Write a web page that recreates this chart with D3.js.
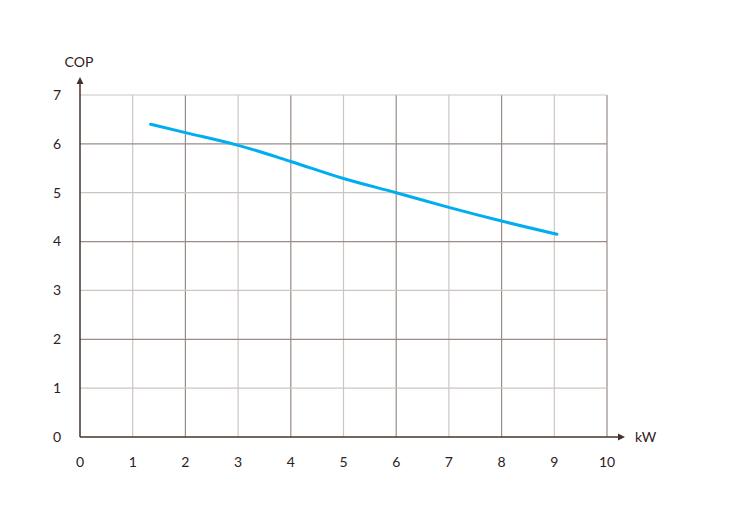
<!DOCTYPE html>
<html><head><meta charset="utf-8">
<script src="https://cdn.jsdelivr.net/npm/d3@7"></script>
<style>body{margin:0;background:#fff}svg{display:block}text{font-family:Lato,"Open Sans",sans-serif;font-weight:400;fill:#2e211b}</style>
</head><body><svg id="c" width="750" height="517"></svg>
<script>
const xTicks = [0,1,2,3,4,5,6,7,8,9,10];
const yTicks = [0,1,2,3,4,5,6,7];
const powerKW = [1.34, 2, 3, 4, 5, 6, 7, 8, 9.05];
const copValues = [6.40, 6.23, 5.97, 5.64, 5.29, 5.00, 4.70, 4.42, 4.15];
const xLabel = "kW", yLabel = "COP";

const svg = d3.select("#c");
const x = d3.scaleLinear().domain([0,10]).range([80,607]);
const y = d3.scaleLinear().domain([0,7]).range([437,95]);

const light = "#cdc5c2", dark = "#998c86", axisC = "#44322a";
// grid
svg.append("g").selectAll("line").data(xTicks.filter(d=>d>0)).join("line")
  .attr("x1",d=>x(d)).attr("x2",d=>x(d)).attr("y1",y(0)).attr("y2",y(7))
  .attr("stroke",d=>d%2===0?dark:light).attr("stroke-width",1.2);
svg.append("g").selectAll("line").data(yTicks.filter(d=>d>0)).join("line")
  .attr("x1",x(0)).attr("x2",x(10)).attr("y1",d=>y(d)).attr("y2",d=>y(d))
  .attr("stroke",d=>d%2===0?dark:light).attr("stroke-width",1.2);

// axes
svg.append("line").attr("x1",x(0)).attr("x2",619).attr("y1",y(0)).attr("y2",y(0)).attr("stroke",axisC).attr("stroke-width",1.5);
svg.append("line").attr("x1",x(0)).attr("x2",x(0)).attr("y1",y(0)).attr("y2",84).attr("stroke",axisC).attr("stroke-width",1.5);
svg.append("path").attr("d",`M${625},${y(0)} L${618},${y(0)-3.5} L${618},${y(0)+3.5}Z`).attr("fill",axisC);
svg.append("path").attr("d",`M${x(0)},77 L${x(0)-3.5},84 L${x(0)+3.5},84Z`).attr("fill",axisC);

// tick labels
svg.append("g").selectAll("text").data(xTicks).join("text")
  .attr("x",d=>x(d)).attr("y",462).attr("dy","0.35em").attr("text-anchor","middle")
  .attr("font-size",14).text(d=>d);
svg.append("g").selectAll("text").data(yTicks).join("text")
  .attr("x",57).attr("y",d=>y(d)).attr("dy","0.35em").attr("text-anchor","middle")
  .attr("font-size",14).text(d=>d);
svg.append("text").attr("x",635).attr("y",y(0)).attr("dy","0.35em").attr("font-size",14).text(xLabel);
svg.append("text").attr("x",79).attr("y",62).attr("dy","0.35em").attr("text-anchor","middle").attr("font-size",14).text(yLabel);

// curve
const pts = powerKW.map((p,i)=>[p,copValues[i]]);
svg.append("path").datum(pts)
  .attr("d",d3.line().x(d=>x(d[0])).y(d=>y(d[1])).curve(d3.curveMonotoneX))
  .attr("fill","none").attr("stroke","#00aeef").attr("stroke-width",3).attr("stroke-linecap","round");
</script></body></html>
